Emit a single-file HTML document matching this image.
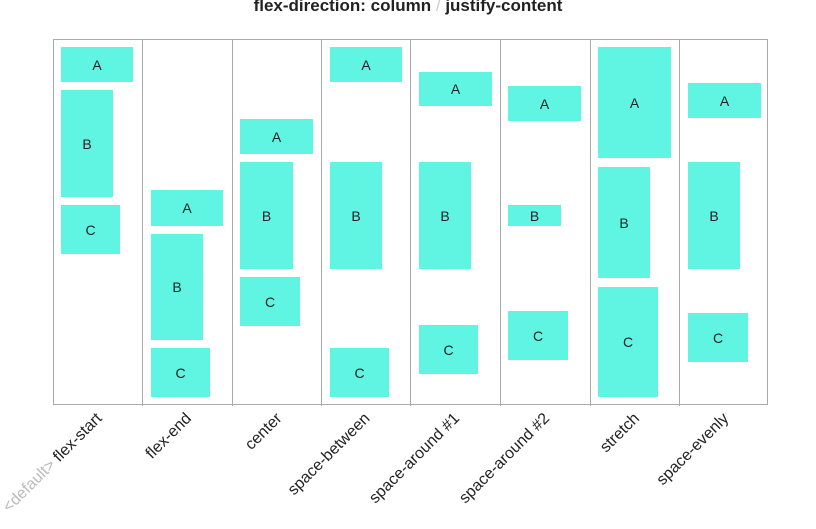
<!DOCTYPE html>
<html><head><meta charset="utf-8"><style>
body{margin:0;width:816px;height:529px;background:#fff;overflow:hidden;position:relative;font-family:"Liberation Sans",Arial,sans-serif}
#title{position:absolute;left:0;width:816px;top:-4px;text-align:center;font-weight:bold;font-size:17px;color:#222}
#title span{color:#ccc;font-weight:normal}
#frame{position:absolute;left:53px;top:39px;width:715px;height:366px;border:1px solid #aaa;box-sizing:border-box}
.div{position:absolute;top:39px;height:367px;width:1px;background:#aaa}
.box{position:absolute;background:#5ff5e2;font-size:14px;color:#222;display:flex;align-items:center;justify-content:center}
.lab{position:absolute;font-size:16px;color:#222;white-space:nowrap;transform-origin:100% 0;transform:rotate(-45deg);text-align:right}
.lab i{font-style:normal;color:#bbb}
</style></head><body>
<div id="title">flex-direction: column <span>/</span> justify-content</div>
<div id="frame"></div>
<div id="root"></div>
<script>
const labels=["flex-start","flex-end","center","space-between","space-around #1","space-around #2","stretch","space-evenly"];
const colX=[53,142,232,321,410,500,590,679];
const items=[
[[61,133,47,82],[61,113,90,197],[61,120,205,254]],
[[151,223,190,226],[151,203,234,340],[151,210,348,397]],
[[240,313,119,154],[240,293,162,269],[240,300,277,326]],
[[330,402,47,82],[330,382,162,269],[330,389,348,397]],
[[419,492,72,106],[419,471,162,269],[419,478,325,374]],
[[508,581,86,121],[508,561,205,226],[508,568,311,360]],
[[598,671,47,158],[598,650,167,278],[598,658,287,397]],
[[688,761,83,118],[688,740,162,269],[688,748,313,362]]];
const names=["A","B","C"];
const root=document.getElementById('root');
colX.forEach((x,i)=>{
 if(i>0){const d=document.createElement('div');d.className='div';d.style.left=x+'px';
 
 
 root.appendChild(d);}
 items[i].forEach((b,j)=>{const e=document.createElement('div');e.className='box';
 e.style.left=b[0]+'px';e.style.width=(b[1]-b[0])+'px';e.style.top=b[2]+'px';e.style.height=(b[3]-b[2])+'px';
 e.textContent=names[j];
 
 
 root.appendChild(e);});
 const l=document.createElement('div');l.className='lab';
 l.innerHTML=(i==0?'<i>&lt;default&gt;</i> ':'')+labels[i];
 
 
 root.appendChild(l);
 const cx=x+45;
 l.style.left=(cx-l.offsetWidth-4)+'px';l.style.top='410px';
});
</script>
</body></html>
